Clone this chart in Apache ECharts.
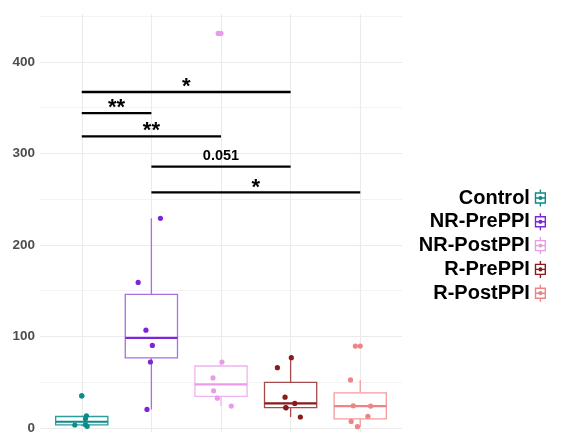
<!DOCTYPE html>
<html>
<head>
<meta charset="utf-8">
<script src="https://cdn.jsdelivr.net/npm/echarts@6/dist/echarts.min.js"></script>
<style>
  html, body { margin: 0; padding: 0; background: #fff; }
  #chart { width: 566px; height: 435px; }
</style>
</head>
<body>
<div id="chart"></div>
<script>
// Groups, in axis order
const groups = ['Control', 'NR-PrePPI', 'NR-PostPPI', 'R-PrePPI', 'R-PostPPI'];
const groupColors = ['#0b8b8b', '#7d25d9', '#e89ce9', '#8b1a1a', '#f08383'];
const boxColors = ['#2d9c9c', '#a76fe6', '#f0b3f0', '#a54b4b', '#f39c9c'];

// Measured values per subject, with the horizontal jitter used to spread the dots
const controlVals = [35.1, 13.4, 10.1, 3.6, 3.3, 1.8];
const controlJitter = [0.0, 0.067, 0.053, 0.053, -0.10, 0.077];
const nrPreVals = [229, 159, 106.9, 90.2, 72.1, 20.3];
const nrPreJitter = [0.13, -0.19, -0.078, 0.014, -0.014, -0.063];
const nrPostVals = [431, 72.1, 54.7, 40.6, 32.6, 23.9];
const nrPostJitter = [-0.04, 0.014, -0.115, -0.106, -0.053, 0.148];
const rPreVals = [76.8, 65.9, 33.7, 26.8, 22.3, 22.0, 12.0];
const rPreJitter = [0.01, -0.19, -0.08, 0.06, -0.07, -0.065, 0.14];
const rPostVals = [89.5, 52.5, 24.3, 23.9, 12.7, 7.2, 1.4];
const rPostJitter = [-0.07, -0.14, -0.1, 0.15, 0.11, -0.13, -0.04];

// Pairwise comparison brackets
const sigFrom = [1, 1, 1, 2, 2];
const sigTo = [4, 2, 3, 4, 5];
const sigY = [367, 344, 318.5, 285.5, 257.3];
const sigText = ['*', '**', '**', '0.051', '*'];

// Y axis ticks
const yLabels = [0, 100, 200, 300, 400];
const yMajor = [0, 100, 200, 300, 400];
const yMinor = [50, 150, 250, 350, 450];

const allVals = [controlVals, nrPreVals, nrPostVals, rPreVals, rPostVals];
const allJitter = [controlJitter, nrPreJitter, nrPostJitter, rPreJitter, rPostJitter];

// Quantile (linear interpolation between order statistics)
function quantile(sorted, p) {
  const h = (sorted.length - 1) * p;
  const lo = Math.floor(h), hi = Math.ceil(h);
  return sorted[lo] + (h - lo) * (sorted[hi] - sorted[lo]);
}
// Tukey box statistics: whiskers reach the furthest value inside 1.5 IQR
function boxStats(vals) {
  const s = vals.slice().sort((a, b) => a - b);
  const q1 = quantile(s, 0.25), med = quantile(s, 0.5), q3 = quantile(s, 0.75);
  const iqr = q3 - q1;
  const inside = s.filter(v => v >= q1 - 1.5 * iqr && v <= q3 + 1.5 * iqr);
  const outliers = s.filter(v => v < q1 - 1.5 * iqr || v > q3 + 1.5 * iqr);
  return { lo: inside[0], q1, med, q3, hi: inside[inside.length - 1], outliers };
}

const FONT = '"Liberation Sans", Arial, sans-serif';
const series = [];

// Background grid lines (kept beneath everything else)
series.push({
  type: 'line',
  data: [],
  silent: true,
  z: 0,
  markLine: {
    z: 0,
    silent: true,
    symbol: ['none', 'none'],
    animation: false,
    label: { show: false },
    emphasis: { disabled: true },
    data: [
      ...yMinor.map(v => ({ yAxis: v, lineStyle: { color: '#f3f3f3', width: 1, type: 'solid' } })),
      ...yMajor.map(v => ({ yAxis: v, lineStyle: { color: '#ebebeb', width: 1.1, type: 'solid' } })),
      ...groups.map((g, i) => ({ xAxis: i + 1, lineStyle: { color: '#ebebeb', width: 1.1, type: 'solid' } }))
    ]
  }
});

groups.forEach((name, gi) => {
  const col = groupColors[gi];
  const bcol = boxColors[gi];
  const st = boxStats(allVals[gi]);
  const x = gi + 1;
  // box and whiskers
  series.push({
    name: name,
    type: 'custom',
    z: 2,
    silent: true,
    itemStyle: { color: col },
    data: [[x, st.lo, st.q1, st.med, st.q3, st.hi]],
    renderItem: function (params, api) {
      const xv = api.value(0);
      const halfW = api.size([0.75, 0])[0] / 2;
      const pLo = api.coord([xv, api.value(1)]);
      const pQ1 = api.coord([xv, api.value(2)]);
      const pMed = api.coord([xv, api.value(3)]);
      const pQ3 = api.coord([xv, api.value(4)]);
      const pHi = api.coord([xv, api.value(5)]);
      const cx = pMed[0];
      const whisker = { stroke: bcol, lineWidth: 1.3, fill: null };
      return {
        type: 'group',
        children: [
          { type: 'line', shape: { x1: cx, y1: pQ3[1], x2: cx, y2: pHi[1] }, style: whisker },
          { type: 'line', shape: { x1: cx, y1: pQ1[1], x2: cx, y2: pLo[1] }, style: whisker },
          { type: 'rect', shape: { x: cx - halfW, y: pQ3[1], width: 2 * halfW, height: pQ1[1] - pQ3[1] },
            style: { fill: '#ffffff', stroke: bcol, lineWidth: 1.3 } },
          { type: 'line', shape: { x1: cx - halfW, y1: pMed[1], x2: cx + halfW, y2: pMed[1] },
            style: { stroke: col, lineWidth: 2.2, fill: null } }
        ]
      };
    }
  });
  // individual values (jittered) plus outliers at the group centre
  const pts = allVals[gi].map((v, k) => [x + allJitter[gi][k], v]);
  st.outliers.forEach(v => pts.push([x, v]));
  series.push({
    name: name,
    type: 'scatter',
    z: 3,
    silent: true,
    symbol: 'circle',
    symbolSize: 5.2,
    itemStyle: { color: col, opacity: 1 },
    data: pts
  });
});

// Significance brackets
series.push({
  type: 'custom',
  z: 4,
  silent: true,
  data: sigFrom.map((f, i) => [f, sigTo[i], sigY[i], i]),
  renderItem: function (params, api) {
    const a = api.coord([api.value(0), api.value(2)]);
    const b = api.coord([api.value(1), api.value(2)]);
    const txt = sigText[api.value(3)];
    const isStar = txt.indexOf('*') >= 0;
    return {
      type: 'group',
      children: [
        { type: 'line', shape: { x1: a[0], y1: a[1], x2: b[0], y2: b[1] },
          style: { stroke: '#000', lineWidth: 2.3 } },
        { type: 'text',
          x: (a[0] + b[0]) / 2,
          y: isStar ? a[1] - 5 : a[1] - 11,
          style: {
            text: txt,
            fill: '#000',
            font: isStar ? 'bold 22px ' + FONT : 'bold 14.5px ' + FONT,
            align: 'center',
            verticalAlign: 'middle',
            textAlign: 'center',
            textVerticalAlign: 'middle'
          } }
      ]
    };
  }
});

const legendIcon = 'path://M5.5,0L5.5,3.5M0.6,3.5L10.4,3.5L10.4,13.5L0.6,13.5ZM0.6,8.5L10.4,8.5M5.5,13.5L5.5,17M4.1,8.5A1.4,1.4,0,1,0,6.9,8.5A1.4,1.4,0,1,0,4.1,8.5Z';

const chart = echarts.init(document.getElementById('chart'), null, { renderer: 'canvas' });
chart.setOption({
  animation: false,
  backgroundColor: '#ffffff',
  grid: { left: 40, right: 164, top: 14.2, bottom: 0.4, containLabel: false },
  xAxis: {
    type: 'value',
    min: 0.4,
    max: 5.6,
    axisLine: { show: false },
    axisTick: { show: false },
    axisLabel: { show: false },
    splitLine: { show: false }
  },
  yAxis: {
    type: 'value',
    min: -5,
    max: 452,
    axisLine: { show: false },
    axisTick: { show: false },
    splitLine: { show: false },
    axisLabel: {
      customValues: yLabels,
      margin: 5,
      color: '#4d4d4d',
      fontWeight: 'bold',
      fontSize: 13.5,
      fontFamily: FONT
    }
  },
  legend: {
    orient: 'vertical',
    right: 15,
    top: 183,
    align: 'right',
    itemWidth: 11,
    itemHeight: 17,
    itemGap: 3.8,
    icon: legendIcon,
    selectedMode: false,
    textStyle: { fontSize: 20, fontWeight: 'bold', color: '#000', fontFamily: FONT },
    data: groups.map((g, i) => ({
      name: g,
      itemStyle: { color: '#ffffff', borderColor: groupColors[i], borderWidth: 1.4 }
    }))
  },
  series: series
});
</script>
</body>
</html>
